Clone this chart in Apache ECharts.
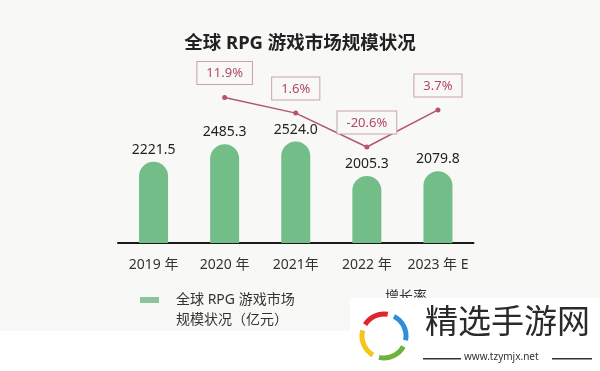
<!DOCTYPE html>
<html><head><meta charset="utf-8">
<script src="https://cdn.jsdelivr.net/npm/echarts@6/dist/echarts.min.js"></script>
<style>html,body{margin:0;padding:0;background:#fff}#c{width:600px;height:371px}</style>
</head><body><div id="c"></div>
<script>
const categories = ['2019 年', '2020 年', '2021年', '2022 年', '2023 年 E'];
const marketSize = [2221.5, 2485.3, 2524.0, 2005.3, 2079.8];
const growthRate = [null, 11.9, 1.6, -20.6, 3.7];
const titleText = '全球 RPG 游戏市场规模状况';
const barName = '全球 RPG 游戏市场\n规模状况（亿元）';
const lineName = '增长率';

const FONT = "'Noto Sans', 'Noto Sans CJK SC', sans-serif";
const chart = echarts.init(document.getElementById('c'), null, {renderer: 'canvas'});
chart.setOption({
  backgroundColor: '#f8f8f6',
  animation: false,
  title: {
    text: titleText, left: 'center', top: 29,
    textStyle: {fontFamily: FONT, fontSize: 18.5, fontWeight: 'bold', color: '#222'}
  },
  grid: {left: 118, right: 126.5, top: 60, bottom: 128},
  xAxis: {
    type: 'category', data: categories,
    axisLine: {onZero: false, lineStyle: {color: '#1a1a1a', width: 2}},
    axisTick: {show: false},
    axisLabel: {interval: 0, fontFamily: FONT, fontSize: 14, color: '#333', margin: 15}
  },
  yAxis: [
    {type: 'value', min: 1000, max: 3750, show: false, splitLine: {show: false}},
    {type: 'value', min: -83.5, max: 36.4, show: false, splitLine: {show: false}}
  ],
  series: [
    {
      name: barName, type: 'bar', data: marketSize, barWidth: 29,
      itemStyle: {color: '#72bd88', borderRadius: [15, 15, 0, 0]},
      label: {show: true, position: 'top', distance: 5, fontFamily: FONT, fontSize: 14, color: '#222',
        formatter: p => p.value.toFixed(1)}
    },
    {
      name: lineName, type: 'line', yAxisIndex: 1, data: growthRate,
      symbol: 'circle', symbolSize: 5, clip: false,
      lineStyle: {color: '#b4566b', width: 1.5},
      itemStyle: {color: '#b4566b'},
      label: {show: true, position: 'top', distance: 11, fontFamily: FONT, fontSize: 13, color: '#b04a62',
        formatter: p => p.value.toFixed(1) + '%',
        borderColor: '#c9a3aa', borderWidth: 1, padding: [5, 9, 4, 9], backgroundColor: '#f8f8f6'}
    }
  ],
  graphic: [
    {type: 'rect', left: 0, top: 331, shape: {width: 600, height: 40}, style: {fill: '#ffffff'}, z: -1},
    {type: 'rect', left: 140, top: 297, shape: {width: 19, height: 6}, style: {fill: '#8dc49b'}},
    {type: 'text', left: 176, top: 290, style: {text: barName, font: "14px " + FONT, fill: '#333', lineHeight: 20}},
    {type: 'rect', left: 353, top: 299, shape: {width: 14, height: 2}, style: {fill: '#b4566b'}},
    {type: 'text', left: 385, top: 290, style: {text: lineName, font: "14px " + FONT, fill: '#333'}},
    {type: 'rect', left: 350, top: 298, shape: {width: 250, height: 73}, style: {fill: '#ffffff'}, z: 10},
    {type: 'text', left: 425, top: 304, z: 11, style: {text: '精选手游网', font: "33px 'Noto Sans CJK SC'", fill: '#2a2a2a'}},
    {type: 'rect', left: 423, top: 358, z: 11, shape: {width: 38, height: 1.5}, style: {fill: '#333'}},
    {type: 'rect', left: 552, top: 358, z: 11, shape: {width: 40, height: 1.5}, style: {fill: '#333'}},
    {type: 'text', left: 464, top: 352, z: 11, style: {text: 'www.tzymjx.net', font: "10px " + FONT, fill: '#333'}},
    {type: 'arc', z: 11, shape: {cx: 384, cy: 336, r: 22, startAngle: -2.6, endAngle: -1.4}, style: {stroke: '#e0262c', lineWidth: 5, fill: null}},
    {type: 'arc', z: 11, shape: {cx: 384, cy: 336, r: 22, startAngle: -1.1, endAngle: 0.2}, style: {stroke: '#2d8fd8', lineWidth: 5, fill: null}},
    {type: 'arc', z: 11, shape: {cx: 384, cy: 336, r: 22, startAngle: 0.5, endAngle: 1.8}, style: {stroke: '#6cb33e', lineWidth: 5, fill: null}},
    {type: 'arc', z: 11, shape: {cx: 384, cy: 336, r: 22, startAngle: 2.1, endAngle: 3.4}, style: {stroke: '#f5c518', lineWidth: 5, fill: null}}
  ]
});
</script></body></html>
